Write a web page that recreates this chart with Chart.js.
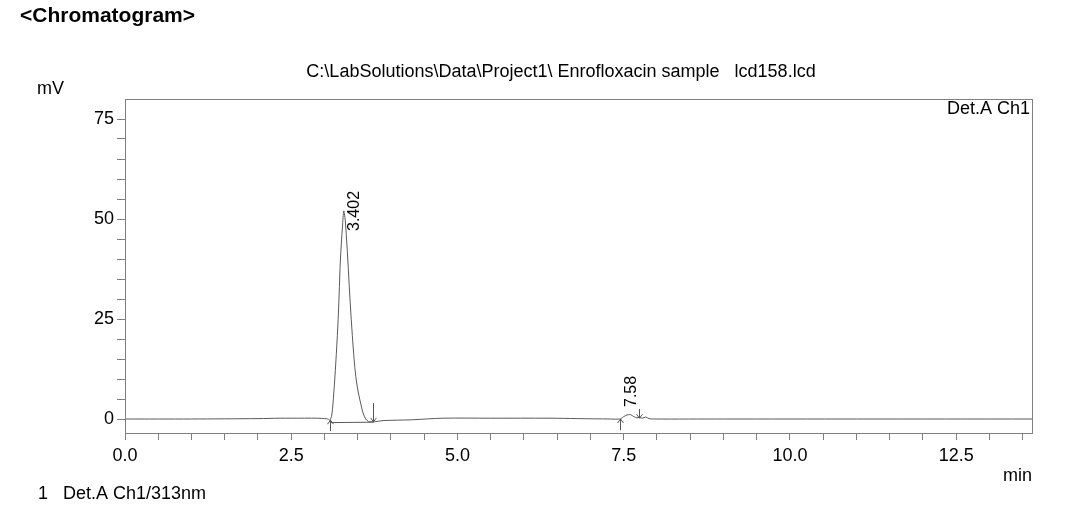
<!DOCTYPE html>
<html>
<head>
<meta charset="utf-8">
<script src="https://cdn.jsdelivr.net/npm/chart.js@4.4.1/dist/chart.umd.min.js"></script>
<style>
    body { margin: 0; background: #fff; }
    #wrap { width: 1065px; height: 519px; }
</style>
</head>
<body>
<div id="wrap"><canvas id="chromChart" width="1065" height="519"></canvas></div>
<script>
// Detector signal (time in min, signal in mV)
const timeMin = [
    0, 1.0, 2.0, 2.33, 2.5, 2.9, 3.0, 3.05, 3.08, 3.11, 3.14, 3.17, 3.20, 3.22, 3.24, 3.27, 3.29,
    3.31, 3.32, 3.35, 3.38, 3.41, 3.45, 3.48, 3.51, 3.55, 3.58, 3.62, 3.66, 3.70, 3.75, 3.88, 4.31,
    4.78, 5.5, 6.39, 6.8, 7.3, 7.44, 7.50, 7.55, 7.60, 7.65, 7.70, 7.73, 7.78, 7.83, 7.88, 7.95,
    9.0, 11.0, 13.64
];
const signalMv = [
    0, 0, 0.1, 0.2, 0.2, 0.2, 0.1, 0, -0.3, 1.0, 6.5, 14, 23, 31, 40, 48, 52,
    50, 48, 40, 31, 23, 14, 9.5, 6.5, 3.5, 1.5, 0, -0.6, -0.7, -0.7, -0.4, -0.2,
    0.2, 0.2, 0.2, 0.1, 0, 0, 0.6, 1.0, 1.1, 0.6, 0.3, 0.4, 0.2, 0.5, 0.1, 0,
    0, 0, 0
];

// Integration baseline under the main peak
const baseTime = [3.09, 3.74];
const baseMv = [-0.9, -0.8];

// Peak start / end markers
const markTime = [3.08, 3.73, 7.44, 7.73];
const markFrom = [-3.0, 4.0, -2.8, 2.5];
const markTo = [-0.3, -0.7, 0.0, 0.2];

// Retention time labels
const peakTime = [3.402, 7.58];
const peakLabel = ['3.402', '7.58'];
const peakLabelMv = [47, 3];

const xMin = 0, xMax = 13.64;
const yMin = -3.5, yMax = 80;
const xLabelStep = 2.5;
const yLabelStep = 25;

const GRAY = '#7f7f7f';
const FONT = '"Liberation Sans", Arial, sans-serif';

const overlayPlugin = {
    id: 'overlay',
    afterDraw(chart) {
        const ctx = chart.ctx;
        const area = chart.chartArea;
        const xs = chart.scales.x;
        const ys = chart.scales.y;

        ctx.save();
        // frame around the plot
        ctx.strokeStyle = GRAY;
        ctx.lineWidth = 1;
        ctx.strokeRect(area.left + 0.5, area.top + 0.5, area.right - area.left, area.bottom - area.top);

        // peak markers (arrows)
        ctx.strokeStyle = '#555';
        markTime.forEach((t, i) => {
            const px = Math.round(xs.getPixelForValue(t)) + 0.5;
            const y0 = ys.getPixelForValue(markFrom[i]);
            const y1 = ys.getPixelForValue(markTo[i]);
            const dir = y1 > y0 ? 1 : -1;
            ctx.beginPath();
            ctx.moveTo(px, y0);
            ctx.lineTo(px, y1);
            ctx.moveTo(px - 3, y1 - dir * 4);
            ctx.lineTo(px, y1);
            ctx.lineTo(px + 3, y1 - dir * 4);
            ctx.stroke();
        });

        // retention time labels
        ctx.fillStyle = '#000';
        ctx.font = '16px ' + FONT;
        ctx.textBaseline = 'middle';
        ctx.textAlign = 'left';
        peakTime.forEach((t, i) => {
            const px = xs.getPixelForValue(t);
            const py = ys.getPixelForValue(peakLabelMv[i]);
            ctx.save();
            ctx.translate(px + 3, py);
            ctx.rotate(-Math.PI / 2);
            ctx.fillText(peakLabel[i], 0, 0);
            ctx.restore();
        });

        // page texts
        ctx.font = 'bold 21px ' + FONT;
        ctx.textAlign = 'left';
        ctx.fillText('<Chromatogram>', 20, 16);

        ctx.font = '18px ' + FONT;
        ctx.textAlign = 'center';
        ctx.fillText('C:\\LabSolutions\\Data\\Project1\\ Enrofloxacin sample   lcd158.lcd', 561, 72);

        ctx.textAlign = 'left';
        ctx.fillText('mV', 37, 89);
        ctx.fillText('1   Det.A Ch1/313nm', 38, 494);

        ctx.textAlign = 'right';
        ctx.fillText('Det.A Ch1', area.right - 2, area.top + 10);
        ctx.fillText('min', area.right, 476);
        ctx.restore();
    }
};

const points = timeMin.map((t, i) => ({ x: t, y: signalMv[i] }));
const basePoints = baseTime.map((t, i) => ({ x: t, y: baseMv[i] }));

new Chart(document.getElementById('chromChart'), {
    type: 'line',
    data: {
        datasets: [
            {
                label: 'Det.A Ch1',
                data: points,
                borderColor: '#5a5a5a',
                borderWidth: 1,
                pointRadius: 0,
                tension: 0.3
            },
            {
                label: 'baseline',
                data: basePoints,
                borderColor: '#5a5a5a',
                borderWidth: 1,
                pointRadius: 0
            }
        ]
    },
    options: {
        responsive: false,
        animation: false,
        layout: { padding: { left: 0, top: 99, right: 33, bottom: 0 } },
        plugins: {
            legend: { display: false },
            tooltip: { enabled: false }
        },
        scales: {
            x: {
                type: 'linear',
                min: xMin,
                max: xMax,
                afterFit: (scale) => { scale.height = 86; },
                border: { display: true, color: GRAY },
                grid: { drawOnChartArea: false, drawTicks: true, tickLength: 7, color: GRAY },
                ticks: {
                    stepSize: 0.5,
                    includeBounds: false,
                    autoSkip: false,
                    maxRotation: 0,
                    padding: 5,
                    color: '#000',
                    font: { family: FONT, size: 18 },
                    callback: (v) => (Math.abs(v / xLabelStep - Math.round(v / xLabelStep)) < 1e-6 ? v.toFixed(1) : '')
                }
            },
            y: {
                min: yMin,
                max: yMax,
                afterFit: (scale) => { scale.width = 125; },
                afterBuildTicks: (scale) => { scale.ticks = scale.ticks.filter(t => t.value < 78); },
                border: { display: true, color: GRAY },
                grid: { drawOnChartArea: false, drawTicks: true, tickLength: 8, color: GRAY },
                ticks: {
                    stepSize: 5,
                    includeBounds: false,
                    autoSkip: false,
                    padding: 3,
                    color: '#000',
                    font: { family: FONT, size: 18 },
                    callback: (v) => (v % yLabelStep === 0 ? String(v) : '')
                }
            }
        }
    },
    plugins: [overlayPlugin]
});
</script>
</body>
</html>
